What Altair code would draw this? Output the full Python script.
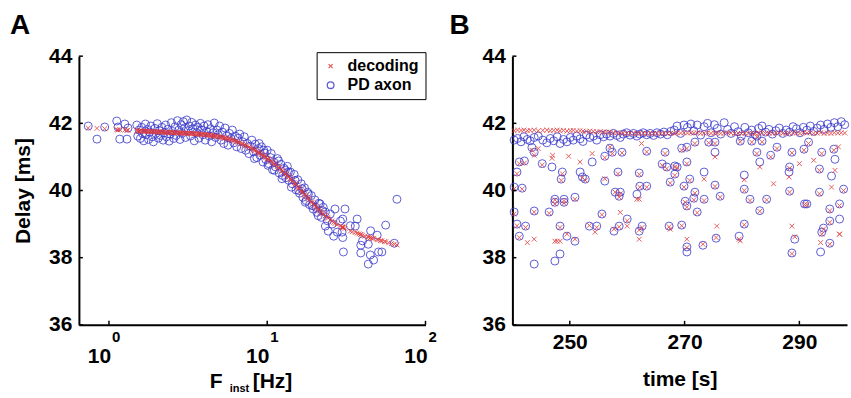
import altair as alt
import pandas as pd

FONT = "Liberation Sans"
BLUE = "#3636cc"
RED = "#e03838"
X_PATH = "M-0.6,-0.6L0.6,0.6M-0.6,0.6L0.6,-0.6"
SERIES = ["decoding", "PD axon"]

# ---------------- Panel A: delay vs instantaneous frequency ----------------
A_freq = [
    0.74, 0.84, 0.94, 1.12, 1.14, 1.17, 1.26, 1.30, 1.32,
    1.50, 1.52, 1.55, 1.58, 1.61, 1.63, 1.66, 1.70, 1.72, 1.75,
    1.78, 1.81, 1.84, 1.88, 1.91, 1.95, 1.98, 2.02, 2.05, 2.08,
    2.12, 2.16, 2.20, 2.24, 2.28, 2.31, 2.35, 2.40, 2.44, 2.48,
    2.52, 2.57, 2.62, 2.66, 2.71, 2.76, 2.81, 2.86, 2.90, 2.95,
    3.00, 3.05, 3.10, 3.16, 3.22, 3.28, 3.33, 3.40, 3.46, 3.52,
    3.58, 3.65, 3.71, 3.78, 3.85, 3.92, 3.99, 4.06, 4.14, 4.22,
    4.30, 4.38, 4.46, 4.55, 4.63, 4.72, 4.81, 4.90, 5.00, 5.10,
    5.20, 5.31, 5.42, 5.53, 5.65, 5.77, 5.89, 6.02, 6.15, 6.28,
    6.42, 6.56, 6.70, 6.85, 7.00, 7.16, 7.32, 7.48, 7.65, 7.82,
    8.00,
    8.2, 8.4, 8.6, 8.8, 9.0, 9.2, 9.4, 9.6, 9.8, 10.0,
    10.2, 10.5, 10.8, 11.0, 11.3, 11.6, 11.9, 12.2, 12.5, 12.8,
    13.1, 13.4, 13.7, 14.0, 14.4, 14.8, 15.2, 15.6, 16.0, 16.4,
    16.8, 17.2, 17.6, 18.0, 18.5, 19.0, 19.5, 20.0, 20.6, 21.2,
    21.6, 22.0, 22.6, 23.3, 23.3, 24.0, 24.3, 25.0, 25.7, 26.3,
    26.8, 27.7, 29.0, 29.7, 30.0, 30.0, 30.3, 31.0,
    8.3, 8.9, 9.5, 10.1, 10.6, 11.1, 11.8, 12.4, 13.0, 13.6,
    14.2, 15.0, 15.8, 16.6, 17.4, 18.2, 19.2, 20.3, 21.0, 22.3,
    33.5, 36.0, 37.0, 39.0, 39.0, 40.0, 43.5, 43.5, 44.8, 45.0,
    47.0, 49.5, 50.5, 53.0, 56.0, 63.5, 66.0,
]
A_pd_axon = [
    41.92, 41.53, 41.89, 42.07, 41.89, 41.53, 41.98, 41.53, 41.86,
    41.95, 41.62, 41.80, 41.55, 41.88, 41.70, 41.48, 41.98, 41.66, 41.82,
    41.52, 41.74, 41.92, 41.60, 41.45, 41.85, 41.70, 41.99, 41.56, 41.78,
    41.64, 41.88, 41.50, 41.72, 41.95, 41.60, 41.82, 41.47, 41.68, 42.02,
    41.76, 41.55, 41.90, 41.64, 42.08, 41.80, 41.52, 41.96, 41.70, 42.05,
    41.86, 41.58, 42.10, 41.78, 41.92, 41.62, 42.03, 41.84, 41.48, 41.95,
    41.72, 41.88, 41.56, 42.00, 41.80, 41.66, 41.92, 41.50, 41.76, 41.96,
    41.62, 41.84, 41.45, 41.72, 42.01, 41.58, 41.80, 41.66, 41.92, 41.50,
    41.74, 41.40, 41.86, 41.62, 41.35, 41.70, 41.55, 41.80, 41.42, 41.62,
    41.30, 41.56, 41.68, 41.25, 41.45, 41.60, 41.20, 41.40, 41.10, 41.32,
    41.50,
    41.15, 41.38, 40.98, 41.25, 41.05, 41.30, 40.85, 41.12, 40.92, 41.20,
    40.80, 40.98, 40.62, 40.85, 40.70, 40.95, 40.52, 40.78, 40.45, 40.66,
    40.38, 40.72, 40.30, 40.55, 40.20, 40.48, 40.02, 40.32, 39.92, 40.20,
    39.80, 40.08, 39.70, 39.95, 39.58, 39.85, 39.45, 39.72, 39.35, 39.62,
    39.60, 39.20, 39.50, 38.94, 39.36, 39.10, 38.79, 39.30, 39.00, 38.64,
    39.45, 38.76, 39.09, 38.76, 39.15, 38.60, 38.17, 39.45,
    40.95, 41.40, 41.20, 40.75, 41.10, 40.60, 40.88, 40.35, 40.60, 40.55,
    40.10, 40.30, 40.00, 40.05, 39.65, 39.90, 39.55, 39.50, 39.25, 39.40,
    38.95, 38.94, 39.15, 38.37, 38.14, 38.50, 38.40, 37.81, 38.08, 38.80,
    37.93, 38.67, 38.17, 38.17, 38.97, 38.43, 39.74,
]
A_decoding = [
    41.86, 41.85, 41.84, 41.81, 41.80, 41.81, 41.80, 41.79, 41.80,
    41.78, 41.78, 41.77, 41.78, 41.77, 41.77, 41.77, 41.76, 41.77, 41.76,
    41.76, 41.76, 41.75, 41.76, 41.75, 41.75, 41.75, 41.74, 41.75, 41.74,
    41.74, 41.74, 41.74, 41.73, 41.74, 41.73, 41.73, 41.73, 41.73, 41.72,
    41.73, 41.72, 41.72, 41.72, 41.72, 41.71, 41.72, 41.71, 41.71, 41.71,
    41.71, 41.70, 41.71, 41.70, 41.70, 41.70, 41.69, 41.70, 41.69, 41.69,
    41.69, 41.68, 41.68, 41.68, 41.67, 41.67, 41.67, 41.66, 41.66, 41.65,
    41.65, 41.64, 41.64, 41.63, 41.62, 41.62, 41.61, 41.60, 41.60, 41.59,
    41.58, 41.57, 41.56, 41.55, 41.54, 41.53, 41.52, 41.50, 41.49, 41.47,
    41.46, 41.44, 41.42, 41.40, 41.38, 41.36, 41.34, 41.32, 41.29, 41.27,
    41.25,
    41.22, 41.19, 41.16, 41.13, 41.10, 41.07, 41.04, 41.01, 40.98, 40.95,
    40.92, 40.88, 40.84, 40.80, 40.76, 40.72, 40.67, 40.63, 40.58, 40.54,
    40.49, 40.45, 40.40, 40.35, 40.29, 40.23, 40.17, 40.11, 40.05, 39.99,
    39.94, 39.88, 39.83, 39.78, 39.72, 39.66, 39.60, 39.55, 39.49, 39.43,
    39.39, 39.35, 39.30, 39.25, 39.25, 39.20, 39.18, 39.13, 39.09, 39.05,
    39.02, 38.98, 38.94, 38.92, 38.91, 38.90, 38.89, 38.87,
    41.20, 41.12, 41.03, 40.94, 40.87, 40.79, 40.69, 40.59, 40.50, 40.41,
    40.32, 40.20, 40.08, 39.96, 39.86, 39.76, 39.64, 39.52, 39.45, 39.32,
    38.79, 38.75, 38.73, 38.69, 38.69, 38.67, 38.62, 38.61, 38.60, 38.59,
    38.57, 38.54, 38.53, 38.50, 38.47, 38.40, 38.38,
]
A_extra_dec_freq = [34.5, 38.0, 41.5, 46.0, 52.0, 55.0, 58.5, 61.0]
A_extra_dec = [38.77, 38.71, 38.64, 38.57, 38.51, 38.48, 38.44, 38.42]

# ---------------- Panel B: delay vs time ----------------
B_time = [
    240.3, 240.9, 241.5, 242.0, 242.6, 243.1, 243.8, 244.5, 245.3, 246.0,
    246.6, 247.2, 247.8, 248.3, 248.9, 249.5, 250.1, 250.6, 251.2, 251.8,
    252.3, 252.9, 253.5, 254.1, 254.7, 255.3, 255.9, 256.4, 257.0, 257.6,
    258.2, 258.8, 259.3, 259.9, 260.5, 261.1, 261.7, 262.2, 262.8, 263.4,
    264.0, 264.6, 265.2, 265.8, 266.4, 267.0, 267.6, 268.2, 268.7, 269.3,
    269.9, 270.5, 271.1, 271.6, 272.2, 272.8, 273.4, 274.0, 274.6, 275.2,
    275.7, 276.3, 276.9, 277.5, 278.1, 278.7, 279.3, 279.9, 280.5, 281.1,
    281.7, 282.3, 282.9, 283.5, 284.1, 284.7, 285.3, 285.9, 286.5, 287.1,
    287.7, 288.3, 288.9, 289.5, 290.1, 290.7, 291.3, 291.9, 292.5, 293.1,
    293.7, 294.3, 294.9, 295.5, 296.1, 296.7, 297.3, 297.9,
    241.2, 242.1, 240.8, 240.3, 241.7, 243.4, 243.8, 245.2, 246.9, 248.7,
    248.5, 251.8, 252.2, 252.7, 253.9, 256.1, 257.4, 257.0, 259.1, 258.4,
    256.1, 258.8, 258.6, 257.9, 247.4, 249.0, 250.9, 263.4, 262.1, 262.2,
    261.7, 263.4, 266.6, 266.1, 266.9, 268.3, 268.3, 267.5, 240.3, 243.8,
    246.4, 247.4, 249.0, 240.8, 242.3, 241.2, 248.3, 249.5, 250.9, 248.3,
    247.4, 243.8, 253.4, 254.7, 255.6, 257.7, 258.6, 260.0, 262.1, 262.6,
    267.3, 269.5, 270.4, 270.4, 273.2, 275.5, 270.4, 272.2, 279.5, 280.4,
    283.1, 288.7, 289.2, 291.3, 293.7, 293.9, 294.2, 295.3, 295.3, 295.3,
    297.0, 297.0, 270.4, 269.5, 271.8, 274.2, 275.3, 275.3, 279.7, 281.7,
    283.5, 282.6, 286.1, 285.0, 282.6, 288.7, 290.8, 291.6, 293.9, 296.0,
    296.2, 270.4, 268.7, 283.1, 288.3, 288.2, 293.5, 273.4, 280.4, 295.6,
    270.9, 269.9, 275.3, 276.2, 280.4, 288.3, 271.8, 271.6, 273.4, 270.1,
    281.4, 284.3, 293.5, 290.9, 297.7,
]
B_pd_axon = [
    41.50, 41.55, 41.45, 41.60, 41.52, 41.48, 41.58, 41.62, 41.50, 41.42,
    41.55, 41.48, 41.60, 41.40, 41.52, 41.45, 41.58, 41.50, 41.62, 41.54,
    41.46, 41.65, 41.58, 41.62, 41.50, 41.66, 41.60, 41.68, 41.62, 41.70,
    41.64, 41.58, 41.68, 41.72, 41.65, 41.70, 41.62, 41.68, 41.72, 41.66,
    41.70, 41.64, 41.72, 41.68, 41.74, 41.66, 41.76, 41.80, 41.92, 41.70,
    41.95, 41.88, 41.98, 41.78, 41.95, 41.65, 41.90, 42.00, 41.72, 41.96,
    41.85, 41.68, 42.02, 41.82, 41.70, 41.90, 41.75, 41.62, 41.88, 41.72,
    41.80, 41.66, 41.85, 41.92, 41.74, 41.82, 41.68, 41.78, 41.86, 41.70,
    41.80, 41.74, 41.90, 41.84, 41.72, 41.88, 41.80, 41.92, 41.76, 41.86,
    41.95, 41.82, 41.98, 41.88, 42.02, 41.90, 42.05, 41.96,
    40.85, 40.88, 40.55, 40.10, 40.07, 41.28, 41.14, 40.80, 40.70, 40.55,
    40.34, 40.55, 40.40, 40.34, 40.85, 41.02, 41.14, 41.26, 41.14, 40.55,
    40.28, 39.95, 39.83, 39.95, 39.74, 39.74, 39.80, 41.17, 40.52, 40.13,
    39.89, 40.13, 41.14, 40.79, 40.70, 40.73, 40.49, 40.25, 39.36, 39.39,
    39.36, 39.65, 39.65, 39.00, 38.94, 38.64, 38.94, 38.64, 38.49, 38.11,
    37.90, 37.81, 38.94, 38.94, 39.30, 38.79, 38.94, 39.15, 38.79, 38.94,
    38.94, 38.97, 38.32, 38.17, 38.37, 38.58, 39.54, 39.36, 38.64, 39.00,
    39.40, 38.14, 38.55, 39.60, 38.17, 38.76, 38.88, 39.45, 39.09, 38.43,
    39.60, 39.15, 41.29, 41.26, 41.44, 41.44, 41.44, 41.14, 41.47, 41.47,
    41.47, 41.62, 41.29, 41.05, 41.14, 41.14, 41.23, 41.44, 41.14, 41.23,
    40.93, 40.85, 40.70, 40.85, 40.70, 40.55, 40.64, 40.55, 40.46, 40.43,
    40.34, 40.13, 40.16, 39.83, 40.04, 39.98, 39.95, 39.77, 39.74, 39.68,
    39.74, 39.74, 39.95, 39.60, 40.04,
]
B_decoding = [
    41.78, 41.80, 41.79, 41.80, 41.78, 41.79, 41.80, 41.78, 41.79, 41.80,
    41.78, 41.79, 41.80, 41.78, 41.79, 41.77, 41.78, 41.79, 41.77, 41.78,
    41.77, 41.76, 41.77, 41.76, 41.75, 41.75, 41.74, 41.74, 41.73, 41.72,
    41.72, 41.71, 41.71, 41.70, 41.71, 41.70, 41.70, 41.71, 41.70, 41.70,
    41.71, 41.70, 41.70, 41.71, 41.70, 41.70, 41.71, 41.70, 41.72, 41.71,
    41.72, 41.71, 41.72, 41.71, 41.72, 41.70, 41.71, 41.72, 41.70, 41.71,
    41.72, 41.70, 41.71, 41.72, 41.71, 41.70, 41.71, 41.70, 41.71, 41.70,
    41.71, 41.70, 41.71, 41.72, 41.70, 41.71, 41.70, 41.71, 41.72, 41.70,
    41.71, 41.70, 41.72, 41.71, 41.70, 41.72, 41.71, 41.72, 41.70, 41.71,
    41.72, 41.70, 41.71, 41.70, 41.72, 41.71, 41.72, 41.71,
    40.80, 40.82, 40.50, 40.05, 40.04, 41.20, 41.05, 40.76, 40.96, 40.50,
    40.30, 40.85, 40.38, 40.30, 41.10, 40.98, 41.10, 41.30, 41.12, 40.50,
    40.35, 39.90, 39.80, 39.95, 39.72, 39.70, 39.74, 41.15, 40.48, 40.10,
    39.74, 40.10, 41.10, 40.75, 40.65, 40.70, 40.45, 40.22, 39.30, 39.36,
    39.32, 39.60, 39.62, 38.95, 38.90, 38.60, 38.90, 38.70, 38.55, 38.49,
    38.49, 38.55, 38.96, 38.90, 39.28, 38.85, 38.92, 39.10, 38.82, 38.90,
    38.92, 38.95, 38.30, 38.55, 38.40, 38.60, 39.50, 39.34, 38.55, 38.98,
    39.38, 38.12, 38.62, 39.58, 38.45, 38.70, 38.85, 39.40, 39.05, 38.40,
    39.55, 38.70, 41.25, 41.20, 41.40, 41.42, 41.40, 41.00, 41.45, 41.44,
    41.45, 41.60, 41.25, 41.00, 41.10, 41.12, 41.20, 41.40, 41.10, 41.20,
    40.60, 40.80, 40.68, 40.70, 40.66, 40.40, 40.60, 40.34, 40.32, 40.10,
    40.30, 40.10, 40.12, 39.80, 40.00, 39.95, 39.92, 39.72, 39.70, 39.65,
    39.70, 39.72, 39.90, 39.58, 40.00,
]
B_extra_dec_time = [242.6, 247.8, 254.4, 260.0, 262.1, 262.1, 267.5, 258.8, 275.6,
                    288.7, 297.0, 279.7, 244.5, 247.0, 249.8, 262.5, 292.5, 296.8,
                    285.5, 290.0]
B_extra_dec = [38.45, 38.49, 38.76, 38.94, 38.55, 39.74, 38.85, 39.35, 38.94,
               38.94, 38.70, 38.50, 41.25, 41.05, 41.02, 41.40, 40.90, 41.30,
               40.20, 40.80]

Y_TICKS = [36, 38, 40, 42, 44]
A_X_TICKS = [1, 10, 100]
A_X_EXP = ["0", "1", "2"]
B_X_TICKS = [250, 270, 290]


def long_table(xs, pd_vals, dec_vals, extra_x, extra_dec):
    rows = [{"x": x, "y": y, "series": "PD axon"} for x, y in zip(xs, pd_vals)]
    rows += [{"x": x, "y": y, "series": "decoding"} for x, y in zip(xs, dec_vals)]
    rows += [{"x": x, "y": y, "series": "decoding"} for x, y in zip(extra_x, extra_dec)]
    return pd.DataFrame(rows)


dfA = long_table(A_freq, A_pd_axon, A_decoding, A_extra_dec_freq, A_extra_dec)
dfB = long_table(B_time, B_pd_axon, B_decoding, B_extra_dec_time, B_extra_dec)

W_A, W_B, H = 347, 335, 269
y_scale = alt.Scale(domain=[36, 44], nice=False, zero=False)
xA_scale = alt.Scale(type="log", domain=[0.646, 100], nice=False)
xB_scale = alt.Scale(domain=[240, 298.3], nice=False, zero=False)

color_scale = alt.Scale(domain=SERIES, range=[RED, BLUE])
shape_scale = alt.Scale(domain=SERIES, range=[X_PATH, "circle"])

axA_x = alt.Axis(values=A_X_TICKS, labelExpr="'10'", title=None, labelOffset=-10,
                 labelPadding=21, labelFlush=False, labelOverlap=False)
axA_y = alt.Axis(values=Y_TICKS, title="Delay [ms]", labelPadding=7, titlePadding=15)
axB_x = alt.Axis(values=B_X_TICKS, title="time [s]", labelPadding=7, titlePadding=16,
                 labelFlush=False, labelOverlap=False)
axB_y = alt.Axis(values=Y_TICKS, title=None, labelPadding=7)

legend = alt.Legend(
    title=None, orient="none", legendX=238, legendY=-4,
    strokeColor="black", fillColor="white", padding=6, rowPadding=3,
    labelFont=FONT, labelFontSize=16, labelFontWeight="bold", labelColor="black",
    symbolSize=45, symbolStrokeWidth=1.3, labelOffset=9,
)


def text_label(txt, x, y, size, align="left"):
    return alt.Chart(pd.DataFrame({"t": [txt]})).mark_text(
        text=txt, x=x, y=y, fontSize=size, font=FONT, fontWeight="bold",
        align=align, baseline="alphabetic", color="black",
    )


def y_ticks(axis):
    return alt.Chart(pd.DataFrame({"y": Y_TICKS})).mark_rule(color="black", strokeWidth=1.5).encode(
        y=alt.Y("y:Q", scale=y_scale, axis=axis), x=alt.value(0), x2=alt.value(4)
    )


def x_ticks(vals, scale, axis):
    return alt.Chart(pd.DataFrame({"x": vals})).mark_rule(color="black", strokeWidth=1.5).encode(
        x=alt.X("x:Q", scale=scale, axis=axis), y=alt.value(H), y2=alt.value(H - 4)
    )


ptsA = alt.Chart(dfA).mark_point(filled=False, size=64, strokeWidth=1, opacity=0.8).encode(
    x=alt.X("x:Q", scale=xA_scale, axis=axA_x),
    y=alt.Y("y:Q", scale=y_scale, axis=axA_y),
    color=alt.Color("series:N", scale=color_scale, legend=legend),
    shape=alt.Shape("series:N", scale=shape_scale, legend=legend),
)

expA = alt.Chart(pd.DataFrame({"x": A_X_TICKS, "e": A_X_EXP})).mark_text(
    fontSize=15, font=FONT, fontWeight="bold", align="left", baseline="alphabetic",
    dx=3, y=286, color="black",
).encode(x=alt.X("x:Q", scale=xA_scale, axis=axA_x), text="e:N")

panelA = alt.layer(
    ptsA, y_ticks(axA_y), x_ticks(A_X_TICKS, xA_scale, axA_x), expA,
    text_label("A", -69, -22, 28),
    text_label("F", 131, 332, 21),
    text_label("inst", 151, 336, 11),
    text_label("[Hz]", 174, 332, 21),
).properties(width=W_A, height=H)

ptsB = alt.Chart(dfB).mark_point(filled=False, size=64, strokeWidth=1, opacity=0.8).encode(
    x=alt.X("x:Q", scale=xB_scale, axis=axB_x),
    y=alt.Y("y:Q", scale=y_scale, axis=axB_y),
    color=alt.Color("series:N", scale=color_scale, legend=None),
    shape=alt.Shape("series:N", scale=shape_scale, legend=None),
)

panelB = alt.layer(
    ptsB, y_ticks(axB_y), x_ticks(B_X_TICKS, xB_scale, axB_x),
    text_label("B", -63, -22, 28),
).properties(width=W_B, height=H)

chart = alt.hconcat(panelA, panelB, spacing=12).resolve_scale(
    color="independent", shape="independent", x="independent"
).properties(
    padding={"left": 10, "top": 12, "right": 0, "bottom": 0}
).configure_view(stroke=None).configure_axis(
    labelFont=FONT, labelFontWeight="bold", labelFontSize=21, labelColor="black",
    titleFont=FONT, titleFontWeight="bold", titleFontSize=21, titleColor="black",
    domainColor="black", domainWidth=2, ticks=False, grid=False,
)

chart.save("out.html", embed_options={"renderer": "svg", "actions": False})
